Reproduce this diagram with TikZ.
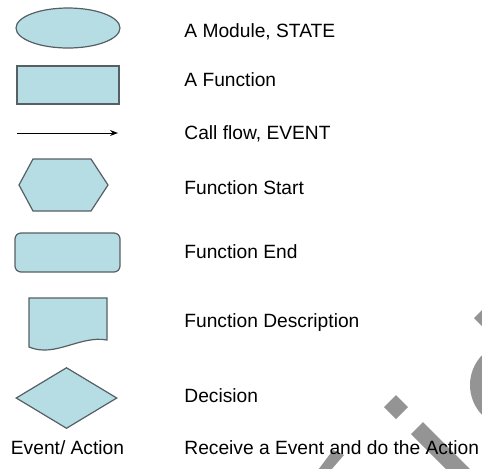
\documentclass[tikz,border=0pt]{standalone}
\usepackage{fontspec}
\setmainfont{Liberation Sans}
\usetikzlibrary{shapes.geometric, arrows.meta, positioning}

\definecolor{shapefill}{RGB}{182,221,227}
\definecolor{shapeline}{RGB}{85,95,100}
\definecolor{markgrey}{RGB}{148,148,148}

\begin{document}
\begin{tikzpicture}[x=0.5pt, y=-0.5pt,
    legend/.style={draw=shapeline, fill=shapefill, line width=0.6pt, inner sep=0pt},
    caption/.style={anchor=base west, inner sep=0pt, font=\fontsize{9.6}{11}\selectfont}]
    \useasboundingbox (0,0) rectangle (482,468);

    % Marca d'aigua
    \begin{scope}
        \clip (0,0) rectangle (482,468);
        \fill[markgrey] (474,318) -- (485,307) -- (496,318) -- (485,329) -- cycle;
        \fill[markgrey] (513,385) circle (43);
        \fill[markgrey] (384,407) -- (396,395) -- (408,407) -- (396,419) -- cycle;
        \fill[markgrey] (411,434) -- (423,422) -- (480,479) -- (468,491) -- cycle;
        \fill[markgrey] (333,450) -- (344,455) -- (331,470) -- (318,470) -- cycle;
    \end{scope}

    % Simbols
    \node[legend, ellipse, minimum width=52pt, minimum height=20pt] (module) at (68,28) {};
    \node[legend, rectangle, minimum width=51pt, minimum height=19pt] (function) at (68,85) {};
    \coordinate (flowstart) at (17,133);
    \coordinate (flowend) at (118,133);
    \draw[-{Stealth[length=4pt,width=3pt]}, line width=0.5pt] (flowstart) -- (flowend);
    \draw[legend] (19,185) -- (33,159) -- (91,159) -- (108,185) -- (91,211) -- (33,211) -- cycle;
    \node[legend, rectangle, rounded corners=3pt, minimum width=52.5pt, minimum height=19.5pt] (funcend) at (67.5,252.5) {};
    \draw[legend] (29,298) -- (107,298) -- (107,340) .. controls (80,335) and (55,358) .. (29,347) -- cycle;
    \node[legend, diamond, minimum width=50.5pt, minimum height=30.5pt] (decision) at (66.5,398) {};
    \node[anchor=base, inner sep=0pt, font=\fontsize{9.6}{11}\selectfont] (event) at (67.5,454) {Event/ Action};

    % Textos
    \node[caption] (tmodule) at (184,37) {A Module, STATE};
    \node[caption] (tfunction) at (184,86) {A Function};
    \node[caption] (tflow) at (184,139) {Call flow, EVENT};
    \node[caption] (tstart) at (184,194) {Function Start};
    \node[caption] (tend) at (184,258) {Function End};
    \node[caption] (tdesc) at (184,327) {Function Description};
    \node[caption] (tdecision) at (184,402) {Decision};
    \node[caption] (tevent) at (184,454) {Receive a Event and do the Action};
\end{tikzpicture}
\end{document}
